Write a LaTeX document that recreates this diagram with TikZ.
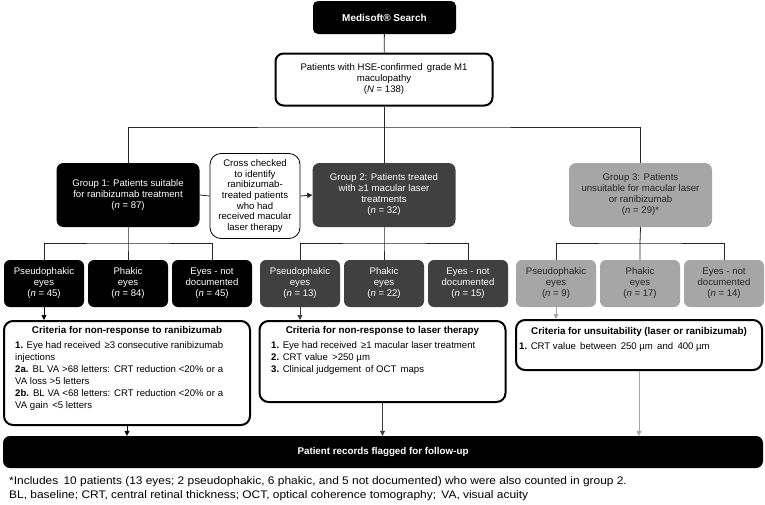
\documentclass[tikz,border=0pt]{standalone}
\usepackage{fontspec}
\setmainfont{Liberation Sans}
\usetikzlibrary{arrows.meta}
\definecolor{grpdark}{HTML}{404040}
\definecolor{grplight}{HTML}{A6A6A6}

\begin{document}
\begin{tikzpicture}[x=1pt,y=-1pt,
  font=\fontsize{9.6}{11}\selectfont,
  conn/.style={draw=black!85,line width=0.8pt},
  arr/.style={conn,-{Triangle[length=5pt,width=5pt]}},
  fillbox/.style={rounded corners=7pt,align=center,inner sep=2pt},
  grpbox/.style={fillbox,minimum width=143pt,minimum height=64pt},
  eyebox/.style={fillbox,rounded corners=6pt,minimum width=80pt,minimum height=47pt},
  critbox/.style={draw,line width=2pt,rounded corners=9pt,fill=white,minimum width=246pt},
  crithead/.style={font=\fontsize{9.8}{11}\selectfont\bfseries},
  critbody/.style={anchor=north west,inner sep=0pt,font=\fontsize{9.6}{12}\selectfont},
  footline/.style={anchor=west,inner sep=0pt,font=\fontsize{11}{13}\selectfont}]
  \useasboundingbox (0,0) rectangle (765,504);

  \node[fillbox,fill=black,text=white,font=\fontsize{10}{11}\selectfont\bfseries,minimum width=143pt,minimum height=33pt,rounded corners=5pt] (search) at (384.5,17.5) {Medisoft\textregistered{} Search};
  \node[draw,line width=2pt,rounded corners=8pt,align=center,minimum width=217pt,minimum height=52pt] (patients) at (384,79.5) {Patients with HSE-confirmed\, grade M1\\maculopathy\\(\textit{N} = 138)};

  \node[grpbox,fill=black,text=white] (g1) at (128,195) {Group 1: Patients suitable\\for ranibizumab treatment\\(\textit{n} = 87)};
  \node[grpbox,fill=grpdark,text=white] (g2) at (384,195) {Group 2: Patients treated\\with ≥1 macular laser\\treatments\\(\textit{n} = 32)};
  \node[grpbox,fill=grplight,text=black!85] (g3) at (640.5,195) {Group 3: Patients\\unsuitable for macular laser\\or ranibizumab\\(\textit{n} = 29)*};
  \node[draw,line width=0.8pt,rounded corners=11pt,align=center,minimum width=90pt,minimum height=85pt,inner sep=1pt,font=\fontsize{9.6}{10.6}\selectfont] (cross) at (255,196) {Cross checked\\to identify\\ranibizumab-\\treated patients\\who had\\received macular\\laser therapy};

  \coordinate (top) at (384,127);
  \draw[conn] (search) -- (patients);
  \draw[conn] (patients) -- (g2);
  \draw[conn] (g1.north) |- (top) -| (g3.north);
  \draw[conn] (g1.east) -- (cross.west);
  \draw[arr] (cross.east) -- (g2.west);

  \foreach \g/\x/\col/\txt/\a/\b/\c in {1/128/black/white/45/84/45,2/384/grpdark/white/13/22/15,3/640/grplight/black!85/9/17/14}
  {
    \node[eyebox,fill=\col,text=\txt] (e\g a) at (\x-84,283.5) {Pseudophakic\\eyes\\(\textit{n} = \a)};
    \node[eyebox,fill=\col,text=\txt] (e\g b) at (\x,283.5) {Phakic\\eyes\\(\textit{n} = \b)};
    \node[eyebox,fill=\col,text=\txt] (e\g c) at (\x+84,283.5) {Eyes - not\\documented\\(\textit{n} = \c)};
    \coordinate (s\g) at (\x,243);
    \draw[conn] (g\g.south) -- (s\g) -- (e\g b.north);
    \draw[conn] (e\g a.north) |- (s\g) -| (e\g c.north);
  }

  \node[critbox,minimum height=104pt] (c1) at (127,373) {};
  \node[critbox,minimum height=81pt] (c2) at (382.5,361.5) {};
  \node[critbox,minimum height=50pt] (c3) at (639,345) {};

  \node[crithead] (c1h) at (127,331) {Criteria for non-response to ranibizumab};
  \node[critbody,text width=208pt,align=justify] (c1b) at (15,341)
    {\textbf{1.} Eye had received\, ≥3 consecutive ranibizumab\linebreak injections\par
     \textbf{2a.} BL VA >68 letters: CRT reduction <20\% or a\linebreak VA loss >5 letters\par
     \textbf{2b.} BL VA <68 letters: CRT reduction <20\% or a\linebreak VA gain\, <5 letters};
  \node[crithead] (c2h) at (382.5,331) {Criteria for non-response to laser therapy};
  \node[critbody,align=left] (c2b) at (271,341)
    {\textbf{1.} Eye had received\, ≥1 macular laser treatment\\
     \textbf{2.} CRT value\, >250 µm\\
     \textbf{3.} Clinical judgement\, of OCT\, maps};
  \node[crithead] (c3h) at (639,332) {Criteria for unsuitability (laser or ranibizumab)};
  \node[critbody,align=left] (c3b) at (519,342) {\textbf{1.} CRT value\, between\, 250 µm\, and\, 400 µm};

  \node[fillbox,fill=black,text=white,font=\fontsize{9.8}{11}\selectfont\bfseries,minimum width=760pt,minimum height=32pt] (flag) at (383,452) {Patient records flagged for follow-up};

  \draw[arr,draw=black] (e1a) -- (e1a |- c1.north);
  \draw[arr,draw=grpdark] (e2a) -- (e2a |- c2.north);
  \draw[arr,draw=grplight] (e3a) -- (e3a |- c3.north);
  \draw[arr,draw=black] (c1) -- (c1 |- flag.north);
  \draw[arr,draw=grpdark] (c2) -- (c2 |- flag.north);
  \draw[arr,draw=grplight] (c3) -- (c3 |- flag.north);

  \node[footline] (fn1) at (9,482) {\scalebox{1.085}[1]{*Includes\, 10 patients (13 eyes; 2 pseudophakic, 6 phakic, and 5 not documented) who were also counted in group 2.}};
  \node[footline] (fn2) at (9,495.5) {\scalebox{1.085}[1]{BL, baseline; CRT, central retinal thickness; OCT, optical coherence tomography;\, VA, visual acuity}};
\end{tikzpicture}
\end{document}
